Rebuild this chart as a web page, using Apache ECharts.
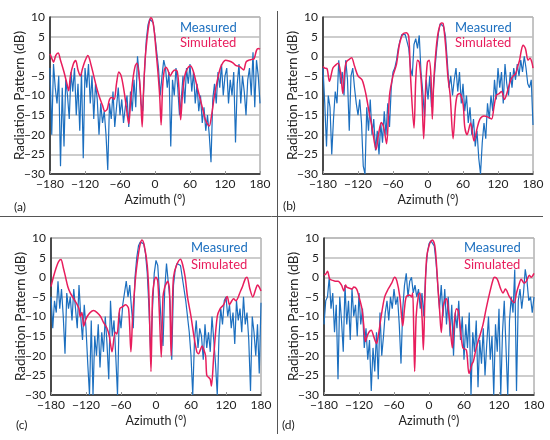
<!DOCTYPE html>
<html>
<head>
<meta charset="utf-8">
<script src="https://cdn.jsdelivr.net/npm/echarts@6/dist/echarts.min.js"></script>
<style>
  html, body { margin: 0; padding: 0; background: #fff; }
  #chart { width: 550px; height: 440px; }
</style>
</head>
<body>
<div id="chart"></div>
<script>
// measured samples are every 3 degrees
const azimuth = [
  -180, -177, -174, -171, -168, -165, -162, -159, -156, -153, -150, -147, -144, -141, -138, -135, -132, -129, -126, -123,
  -120, -117, -114, -111, -108, -105, -102, -99, -96, -93, -90, -87, -84, -81, -78, -75, -72, -69, -66, -63,
  -60, -57, -54, -51, -48, -45, -42, -39, -36, -33, -30, -27, -24, -21, -18, -15, -12, -9, -6, -3,
  0, 3, 6, 9, 12, 15, 18, 21, 24, 27, 30, 33, 36, 39, 42, 45, 48, 51, 54, 57,
  60, 63, 66, 69, 72, 75, 78, 81, 84, 87, 90, 93, 96, 99, 102, 105, 108, 111, 114, 117,
  120, 123, 126, 129, 132, 135, 138, 141, 144, 147, 150, 153, 156, 159, 162, 165, 168, 171, 174, 177, 180
];

const measuredA = [
  -3, -20, -2, -8, -12, -5, -28, -8, -23, -6, -10, -16, -4, -9, -3, -15, -7, -19, -4, -26,
  -3, -8, -2, -12, -5, -16, -7, -11, -20, -12, -17, -14, -20, -29, -12, -16, -9, -18, -13, -8,
  -15, -11, -17, -13, -10, -18, -9, -14, -6, -13, 0, -5, -12, -14, -4, 4, 8, 9.5, 9.8, 8.5,
  5, 1, -3, -10, -5, -1, -3, -8, -4, -23, -6, -10, -3, -8, -15, -11, -5, -12, -3, -7,
  -2, -9, -4, -12, -7, -14, -10, -17, -13, -19, -15, -20, -27, -11, -7, -12, -4, -8, -2, -10,
  -5, -3, -12, -6, -10, -4, -22, -7, -2, -12, -5, -9, -15, -6, -3, -10, 1, -13, -1, -5, -12
];

const simulatedA = [
  [-180, 0.6], [-177, -0.5], [-174, -1.5], [-170, 0.2], [-166, 0.8], [-162, -1], [-156, -4], [-151, -7], [-148, -8.8],
  [-145, -5], [-140, -2], [-136, -1.1], [-132, -3.5], [-128, -5], [-124, -3], [-120, -1.2], [-115, 0.2], [-110, -2],
  [-105, -5], [-100, -8], [-95, -10.5], [-90, -12.5], [-86, -14], [-82, -13.5], [-78, -11], [-74, -10.5], [-70, -11],
  [-66, -7], [-62, -4], [-58, -5], [-54, -8], [-50, -12], [-47, -15.5], [-45, -17.2], [-42, -12], [-38, -6], [-34, -2.5],
  [-31, -1.8], [-28, -4], [-25, -9], [-22, -18], [-20, -10], [-17, -1], [-14, 4], [-10, 8.5], [-7, 9.8], [-4, 9],
  [-1, 6], [2, 1], [5, -4], [8, -10], [10.5, -17.5], [13, -8], [16, -3.5], [19, -2.8], [22, -3.5], [26, -5], [30, -4],
  [34, -3.5], [38, -3.8], [41, -8], [44, -16.2], [47, -10], [51, -5], [56, -3], [61, -2.5], [66, -4], [71, -7],
  [76, -10], [81, -13], [86, -16], [90, -17.3], [93, -17.8], [97, -15], [102, -10], [107, -6], [112, -3], [117, -1.5],
  [121, -1], [127, -1.2], [133, -1.6], [139, -2.4], [144, -2.5], [148, -3], [152, -3.5], [156, -1.5], [161, -1],
  [166, -0.8], [170, -0.6], [174, 1.5], [177, 2], [180, 1.8]
];

const measuredB = [
  -3, -12, -23, -10, -13, -25, -16, -9, -12, -1, -7, -4, -10, -1, -6, -19, -5, -3, -8, -12,
  -15, -11, -17, -28, -30, -13, -19, -11, -20, -16, -24, -19, -25, -17, -22, -14, -20, -12, -18, -8,
  -4, -3, -1, 2, 4, 5.5, 5.8, 5.5, 5, 2, -3, -5, 3, 4.5, 2, 5.3, -4, -9, -15.5, -6,
  -11, -5, -13, -9, -3, 2, 6, 8.3, 8.7, 7.5, 5, -1, -8, -5, -10, -6, -3, -9, -4, -12,
  -7, -14, -10, -17, -13, -20, -16, -23, -19, -26, -30, -22, -17, -21, -12, -16, -10, -14, -6, -11,
  -3, -8, -4, -12, -2, -7, -10, -4, -8, -3, -6, -2, -5, -1, -4, 0, -3, -7, -8, -6, -17.5
];

const simulatedB = [
  [-180, -2.6], [-177, -3], [-173, -3.2], [-169, -6.4], [-163, -3], [-158, -2.2], [-154, -1.8], [-150, -4], [-146, -9.5],
  [-143, -4], [-140, -1.5], [-135, -0.8], [-131, -0.4], [-126, -2.5], [-120, -5], [-113, -6], [-109, -8], [-106, -10],
  [-100, -15], [-96, -18], [-89, -23.8], [-85, -20], [-80, -16.9], [-76, -18], [-71, -22.3], [-66, -10], [-60, -5],
  [-54, -2], [-49, 3], [-43, 5.7], [-37, 6], [-33, 5], [-30, -5], [-24, -18.3], [-21, -6], [-18, -1], [-15, -1.5],
  [-11, -8], [-7.4, -21], [-4, -8], [-1, -1.5], [2, -1], [5, -5], [7.4, -16], [10, -6], [14, 2], [18, 6.5], [23, 8.5],
  [26, 8.3], [30, 3], [34, -5], [38, -10], [43, -21], [47, -13], [50, -10], [54, -9.5], [60, -12], [63, -18],
  [67, -20], [73, -17], [79, -21.6], [84, -18.5], [89, -16], [96, -15.2], [103, -15.5], [109, -16], [113, -13],
  [117, -10], [122, -9.5], [126, -9], [131, -11], [137, -8.5], [142, -6], [146, -5], [150, -4.5], [154, -2.5],
  [157, -1], [160, 1.5], [163, 2.8], [167, 2], [171.5, -1], [175, -0.5], [178, -1.5], [180, -3]
];

const measuredC = [
  -5, -13, -6, -9, -1, -8, -3, -10, -19.5, -4, -8, -5, -11, -3, -8, -13, -2, -10, -16, -7,
  -13, -22, -30, -11, -30, -15, -20, -12, -23, -14, -19, -10, -17, -26, -6, -15, -11, -20, -30, -9,
  -13, -7, -4, -1, -5, -2, -8, -13, 0, 5, 8, 9, 9.5, 8.5, 6, 1, -8, -20, -8, 1,
  4.3, 3, -4, -12, -17.5, -3, 3.5, 3, -6, -21, -2, 2, 3.5, 4, 3, 0, -3, -6, -10, -14,
  -20, -30, -16, -11, -18, -13, -15, -21, -12, -18, -14, -19, -10, -16, -22, -30, -15, -8, -12, -6,
  -5, -10, -7, -13, -9, -17, -6, -11, -8, -14, -5, -12, -9, -16, -29, -10, -14, -20, -12, -24.5, -6.5
];

const simulatedC = [
  [-180, -2.4], [-176, 0], [-171, 2.5], [-167, 4], [-163, 4.5], [-159, 2.5], [-155, 0], [-151, -2.5], [-147, -4],
  [-141, -5.5], [-135, -7], [-132, -8], [-130, -10], [-127, -9], [-124, -12.5], [-121, -11], [-118, -10], [-113, -9],
  [-107, -8.5], [-101, -9], [-95, -10], [-90, -11.5], [-84, -13], [-80, -15], [-78, -17], [-75.4, -19], [-70, -14],
  [-67, -14.5], [-62, -8], [-57, -7.5], [-52, -7], [-47, -8], [-43, -19], [-40, -10], [-35, 0], [-31, 5], [-27, 8.5],
  [-24, 9.5], [-20, 8], [-15, 3], [-12, -5], [-8.6, -24], [-6, -5], [-3, -1], [0, 0], [3, -1], [6, -10], [9, -20.3],
  [12, -5], [15, -2.5], [18, -1.5], [20, -1], [23, -3], [26, -20], [28, -8], [30, 0], [35, 3], [42, 4.6], [46, 3],
  [50, 0], [54, -5], [60, -10], [65, -15], [70, -19], [73, -19.5], [76, -18.5], [79, -17.5], [82, -18.5], [85, -20],
  [87, -25], [90, -25.5], [93, -26], [95, -27.7], [99, -20], [105, -10], [110, -8], [116, -7], [122, -4.9], [126, -7],
  [130, -6], [133, -5.5], [137, -6], [145, -3.5], [148, -2.5], [153, -0.4], [156, 0], [161, -3], [166, -5], [171, -3],
  [174, -2], [177, -2.5], [180, -3.5]
];

const measuredD = [
  -12, -6, -5, 0, -8, -4, -14, -7, -26, -5, -11, -19, -2, -12, -6, -16, -3, -10, -7, -15,
  -4, -12, -8, -18, -13, -21, -16, -29, -18, -24, -14, -26, -9, -20, -15, -9, -6, -11, -5, -8,
  -3, -7, -5, -12, -22, -8, -2, 1, -5, -1, 0, -4, -2, -5, -3, -8, -4, -10, 0, 6,
  8.5, 9.3, 9.5, 8, 4, -2, -8, -2, -10, -3, -12, -5, -15, -7, -20, -9, -13, -6, -16, -10,
  -21, -12, -18, -9, -30, -14, -19, -11, -28, -16, -22, -13, -25, -17, -10, -21, -15, -30, -12, -19,
  -8, -30, -14, -6, -18, -30, -11, -5, -9, 2, -29, -6, -3, -8, -4, 2, -1, -6, -5, -9, -5
];

const simulatedD = [
  [-180, 0.6], [-177, 0.8], [-174, 1.5], [-170, -0.5], [-165, -0.8], [-161, -1], [-156, -1], [-150, -2], [-146, -3.5],
  [-143, -2], [-141, -2.5], [-136, -2.8], [-132, -3], [-129, -2.5], [-124, -3], [-120, -5], [-115, -8], [-112, -12],
  [-109, -16.4], [-106, -15], [-103, -14], [-99, -13.5], [-95, -15], [-90, -16.9], [-87, -15], [-82, -10], [-76, -5],
  [-70, -3], [-64, -1.5], [-59, 0], [-55, -1], [-50, -5], [-47, -10], [-45, -12.4], [-42, -8], [-39, -5], [-33, -4.5],
  [-30, -5], [-28, -4], [-26, -15], [-24.6, -24], [-22, -10], [-18, -4.5], [-15.5, -4], [-12, -10], [-9.7, -18.5],
  [-7, -5], [-4, 5], [1, 8.5], [5.7, 9.5], [10, 8], [13, 3], [15.5, -3], [18, -8], [21, -14.1], [24, -8], [27, -6],
  [30, -5.5], [32, -7], [36, -12], [40, -18], [43, -12], [47, -8], [50, -8.5], [53, -12], [58, -18], [64, -18.5],
  [68.6, -24.5], [74, -22], [76, -21.5], [81, -18], [87, -15], [92.6, -12], [98, -8], [104, -4], [110, -0.5],
  [112.6, 0], [117, -0.5], [123, -3], [127, -4], [131, -3], [138, -5], [146, -6.5], [150, -4], [154, -2], [158, -0.5],
  [163, -1.5], [167, -1], [172, 0.5], [175, 0], [180, 1]
];

const BLUE = '#1c6fbf';
const RED = '#e81d5c';
const FONT = 'Lato';

const panels = [
  { left: 50, top: 17, measured: measuredA, simulated: simulatedA },
  { left: 323, top: 17, measured: measuredB, simulated: simulatedB },
  { left: 51, top: 238, measured: measuredC, simulated: simulatedC },
  { left: 324, top: 238, measured: measuredD, simulated: simulatedD }
];
const panelLabels = ['(a)', '(b)', '(c)', '(d)'];
const legendPos = [[180, 29, 44], [455, 29, 44], [191, 249, 266], [464, 249, 266]];
const labelPos = [[14, 208], [283, 207], [16, 426], [282, 426]];

const minus = v => String(v).replace('-', '\u2212');

const grids = [], xAxes = [], yAxes = [], series = [], graphics = [];

panels.forEach((p, i) => {
  grids.push({
    left: p.left, top: p.top, width: 210, height: 157,
    show: true, borderColor: '#8a8a8a', borderWidth: 1, backgroundColor: '#fff'
  });
  xAxes.push({
    type: 'value', gridIndex: i, min: -180, max: 180, interval: 60,
    name: 'Azimuth (°)', nameLocation: 'middle', nameGap: 19, nameMoveOverlap: false,
    nameTextStyle: { fontFamily: FONT, fontSize: 12.5, color: '#222' },
    axisLine: { show: true, onZero: false, lineStyle: { color: '#222', width: 1.5 } },
    axisTick: { show: true, inside: true, length: 3, lineStyle: { color: '#999' } },
    axisLabel: { fontFamily: FONT, fontSize: 12, color: '#222', margin: 4, formatter: minus },
    splitLine: { show: false }
  });
  yAxes.push({
    type: 'value', gridIndex: i, min: -30, max: 10, interval: 5,
    name: 'Radiation Pattern (dB)', nameLocation: 'middle', nameGap: 23, nameMoveOverlap: false,
    nameTextStyle: { fontFamily: FONT, fontSize: 13.5, color: '#222' },
    axisLine: { show: true, onZero: false, lineStyle: { color: '#222', width: 1.5 } },
    axisTick: { show: false },
    axisLabel: { fontFamily: FONT, fontSize: 12, color: '#222', margin: 5, formatter: minus },
    splitLine: { show: true, lineStyle: { color: '#bdbdbd', width: 1.5 } }
  });
  series.push({
    name: 'Measured', type: 'line', xAxisIndex: i, yAxisIndex: i,
    data: azimuth.map((a, k) => [a, p.measured[k]]),
    showSymbol: false, lineStyle: { color: BLUE, width: 1.2 }, z: 2
  });
  series.push({
    name: 'Simulated', type: 'line', xAxisIndex: i, yAxisIndex: i,
    data: p.simulated, smooth: 0.3,
    showSymbol: false, lineStyle: { color: RED, width: 1.5 }, z: 3
  });
  const lp = legendPos[i];
  graphics.push({
    type: 'text', left: lp[0], top: lp[1] - 8, z: 10,
    style: { text: 'Measured', fill: BLUE, font: '13px ' + FONT }
  });
  graphics.push({
    type: 'text', left: lp[0], top: lp[2] - 8, z: 10,
    style: { text: 'Simulated', fill: RED, font: '13px ' + FONT }
  });
  graphics.push({
    type: 'text', left: labelPos[i][0], top: labelPos[i][1] - 7,
    style: { text: panelLabels[i], fill: '#222', font: '12px ' + FONT }
  });
});

// divider lines between panels
graphics.push({
  type: 'line', shape: { x1: 0, y1: 216.5, x2: 543, y2: 216.5 },
  style: { stroke: '#555', lineWidth: 1 }
});
graphics.push({
  type: 'line', shape: { x1: 277.5, y1: 11, x2: 277.5, y2: 434 },
  style: { stroke: '#555', lineWidth: 1 }
});

const chart = echarts.init(document.getElementById('chart'));
chart.setOption({
  animation: false,
  grid: grids,
  xAxis: xAxes,
  yAxis: yAxes,
  series: series,
  graphic: graphics
});
</script>
</body>
</html>
